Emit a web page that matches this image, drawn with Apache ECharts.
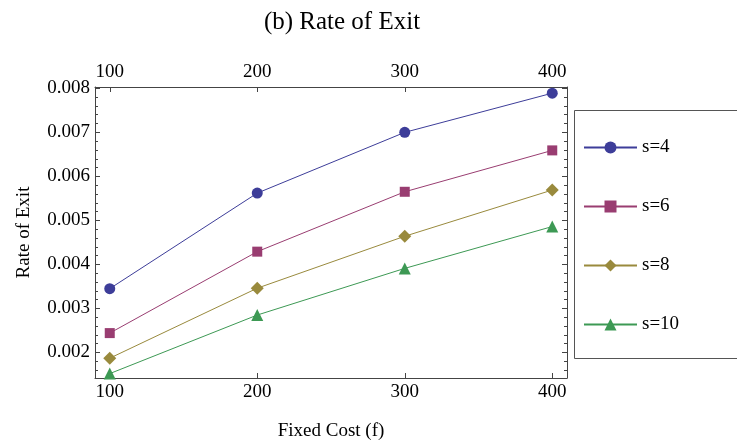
<!DOCTYPE html>
<html>
<head>
<meta charset="utf-8">
<script src="https://cdn.jsdelivr.net/npm/echarts@6/dist/echarts.min.js"></script>
<style>
html,body{margin:0;padding:0;background:#fff;}
#chart{width:737px;height:446px;}
</style>
</head>
<body>
<div id="chart"></div>
<script>
// Data
const fixedCost = [100, 200, 300, 400];
const s4  = [0.00345, 0.00562, 0.00700, 0.00789];
const s6  = [0.00244, 0.00429, 0.00565, 0.00659];
const s8  = [0.00187, 0.00346, 0.00464, 0.00569];
const s10 = [0.00152, 0.00285, 0.00391, 0.00486];
const seriesNames = ['s=4', 's=6', 's=8', 's=10'];
const seriesValues = [s4, s6, s8, s10];
const seriesColors = ['#3d3d99', '#993d71', '#998a3d', '#3d9954'];
const seriesSymbols = ['circle', 'rect', 'diamond', 'triangle'];
const seriesSymbolSizes = [11, 10, 13, 12];

const FONT = "'Liberation Serif', 'DejaVu Serif', serif";
const AXIS_COLOR = '#444';

function pairs(vals) { return fixedCost.map((x, i) => [x, vals[i]]); }

const yFmt = v => (Math.abs(v * 1000 - Math.round(v * 1000)) < 1e-6) ? v.toFixed(3) : '';
const xFmt = v => (Math.abs(v / 100 - Math.round(v / 100)) < 1e-9) ? String(Math.round(v)) : '';

const xCommon = {
  type: 'value', min: 90, max: 410, splitNumber: 3,
  axisLine: { show: true, lineStyle: { color: AXIS_COLOR, width: 1 } },
  axisTick: { show: true, inside: true, length: 5, lineStyle: { color: AXIS_COLOR } },
  splitLine: { show: false },
  axisLabel: { color: '#000', fontFamily: FONT, fontSize: 19, margin: 5, formatter: xFmt }
};
const yCommon = {
  type: 'value', min: 0.00142, max: 0.00803, splitNumber: 5,
  axisLine: { show: true, lineStyle: { color: AXIS_COLOR, width: 1 } },
  axisTick: { show: true, inside: true, length: 5, lineStyle: { color: AXIS_COLOR } },
  minorTick: { show: true, splitNumber: 5, length: 3, lineStyle: { color: AXIS_COLOR } },
  splitLine: { show: false },
  minorSplitLine: { show: false },
  axisLabel: { color: '#000', fontFamily: FONT, fontSize: 19, margin: 5, formatter: yFmt }
};

const chart = echarts.init(document.getElementById('chart'), null, { renderer: 'canvas' });
chart.setOption({
  animation: false,
  backgroundColor: '#fff',
  grid: { left: 95, top: 87, right: 170, bottom: 68, containLabel: false },
  xAxis: [
    Object.assign({}, xCommon, {
      position: 'bottom',
      name: 'Fixed Cost (f)', nameLocation: 'middle', nameGap: 44,
      nameTextStyle: { color: '#000', fontFamily: FONT, fontSize: 19 }
    }),
    Object.assign({}, xCommon, { position: 'top' })
  ],
  yAxis: [
    Object.assign({}, yCommon, {
      position: 'left',
      name: 'Rate of Exit', nameLocation: 'middle', nameGap: 61,
      nameTextStyle: { color: '#000', fontFamily: FONT, fontSize: 19 }
    }),
    Object.assign({}, yCommon, { position: 'right', axisLabel: { show: false } })
  ],
  legend: {
    orient: 'vertical', left: 583, top: 137, padding: 0,
    itemWidth: 53, itemHeight: 15, itemGap: 38,
    textStyle: { color: '#000', fontFamily: FONT, fontSize: 19, lineHeight: 21 },
    data: seriesNames
  },
  graphic: [
    { type: 'text', x: 342, y: 22,
      style: { text: '(b) Rate of Exit', fill: '#000', font: "25px 'Liberation Serif', serif",
               textAlign: 'center', textVerticalAlign: 'middle', verticalAlign: 'middle' } },
    { type: 'rect', shape: { x: 574.5, y: 110.5, width: 200, height: 248 },
      style: { fill: 'none', stroke: '#555', lineWidth: 1 }, z: -1 }
  ],
  series: seriesNames.map((name, i) => ({
    name: name, type: 'line', xAxisIndex: 0, yAxisIndex: 0,
    data: pairs(seriesValues[i]),
    symbol: seriesSymbols[i], symbolSize: seriesSymbolSizes[i], showSymbol: true,
    itemStyle: { color: seriesColors[i], opacity: 1 },
    lineStyle: { color: seriesColors[i], width: 1 },
    emphasis: { disabled: true }
  }))
});
</script>
</body>
</html>
